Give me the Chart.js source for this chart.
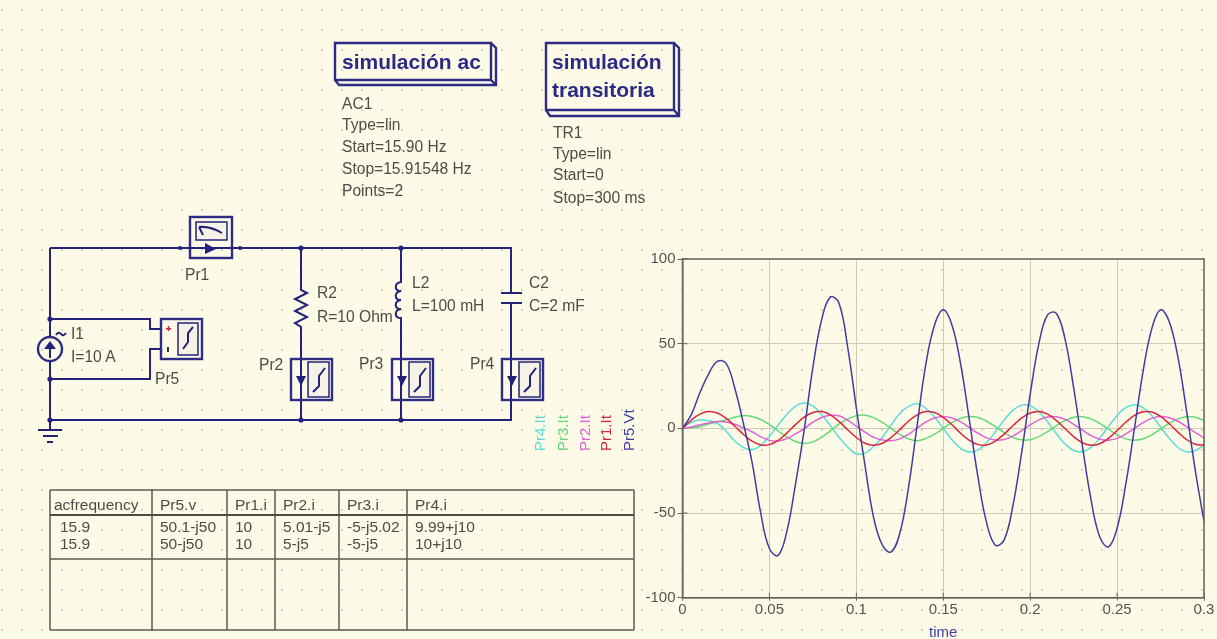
<!DOCTYPE html>
<html>
<head>
<meta charset="utf-8">
<title>Qucs simulación</title>
<script src="https://cdn.jsdelivr.net/npm/chart.js@4"></script>
<style>
html, body { margin: 0; padding: 0; background: #fefae8; overflow: hidden; }
#sheet, #chart { position: absolute; left: 0; top: 0; width: 1217px; height: 639px; filter: blur(0.5px); }
svg text { font-family: "Liberation Sans", sans-serif; font-size: 15.6px; fill: #4c4c48; }
svg text.title { font-size: 21px; font-weight: bold; fill: #2b2b86; }
svg text.cell { font-size: 15.5px; }
.wire { stroke: #23237c; stroke-width: 2; fill: none; }
.box { stroke: #2d2d86; stroke-width: 2.4; fill: none; }
.inner { stroke: #23237c; stroke-width: 1.5; fill: #f6f2e6; }
.tbl { stroke: #5a5a50; stroke-width: 1.5; }
.tblh { stroke: #4a4a44; stroke-width: 2; }
</style>
</head>
<body>
<svg id="sheet" viewBox="0 0 1217 639" xmlns="http://www.w3.org/2000/svg">
  <defs>
    <pattern id="dots" x="1" y="9" width="20" height="20" patternUnits="userSpaceOnUse">
      <rect width="1.8" height="1.8" fill="#cfcdbc"/>
    </pattern>
    <g id="probeI">
      <rect class="box" x="-10" y="-21" width="41" height="41"/>
      <rect class="inner" x="7" y="-18" width="21" height="35"/>
      <path class="wire" d="M12 12 L18 6 L18 -4 L24 -12" stroke-width="1.5"/>
      <path d="M-5 -4 L5 -4 L0 6 Z" fill="#23237c"/>
    </g>
  </defs>
  <rect width="1217" height="639" fill="url(#dots)"/>

  <!-- simulation blocks -->
  <path class="box" d="M335 43 H491 V80 H335 Z M491 43 L496 48 V85 H339 L335 80 M491 80 L496 85"/>
  <text class="title" x="342" y="69">simulación ac</text>
  <text x="342" y="109">AC1</text>
  <text x="342" y="130">Type=lin</text>
  <text x="342" y="152">Start=15.90 Hz</text>
  <text x="342" y="174">Stop=15.91548 Hz</text>
  <text x="342" y="196">Points=2</text>

  <path class="box" d="M546 43 H674 V110 H546 Z M674 43 L679 48 V116 H550 L546 110 M674 110 L679 116"/>
  <text class="title" x="552" y="69">simulación</text>
  <text class="title" x="552" y="97">transitoria</text>
  <text x="553" y="138">TR1</text>
  <text x="553" y="159">Type=lin</text>
  <text x="553" y="180">Start=0</text>
  <text x="553" y="203">Stop=300 ms</text>

  <!-- wires -->
  <path class="wire" d="M50 248 H190 M232 248 H511 V293 M511 303 V420 H50 V361 M50 337 V248"/>
  <path class="wire" d="M50 319 H150 V329 H161 M50 379 H150 V349 H161"/>
  <path class="wire" d="M301 248 V290 L307 293 L295 299 L307 305 L295 311 L307 317 L295 323 L301 327 V420"/>
  <path class="wire" d="M401 248 V282 C394 283 394 291 401 291 C394 292 394 300 401 300 C394 301 394 309 401 309 C394 310 394 318 401 318 V420"/>
  <path class="wire" stroke-width="2.5" d="M501 293 H522 M501 303 H522"/>
  <path class="wire" d="M50 420 V430 M38 430 H62 M43 436 H58 M47 442 H53"/>
  <g fill="#23237c">
    <circle cx="301" cy="248" r="2.6"/><circle cx="401" cy="248" r="2.6"/>
    <circle cx="301" cy="420" r="2.6"/><circle cx="401" cy="420" r="2.6"/>
    <circle cx="50" cy="319" r="2.6"/><circle cx="50" cy="379" r="2.6"/><circle cx="50" cy="420" r="2.6"/>
    <circle cx="180" cy="248" r="2"/><circle cx="240" cy="248" r="2"/>
  </g>

  <!-- current source -->
  <circle class="box" cx="50" cy="349" r="12" fill="#fefae8"/>
  <path class="wire" d="M50 343 V358"/>
  <path d="M44 349 L50 341 L56 349 Z" fill="#23237c"/>
  <path class="wire" stroke-width="1.4" d="M56 335 Q59 331 61 334 T66 333"/>
  <text x="71" y="339">I1</text>
  <text x="71" y="362">I=10 A</text>

  <!-- probes -->
  <rect class="box" x="190" y="217" width="42" height="41"/>
  <rect class="inner" x="196" y="222" width="31" height="18"/>
  <path class="wire" stroke-width="1.5" d="M199 227 Q210 226 222 233 M203 235 L199 227"/>
  <path class="wire" d="M185 248 H236"/>
  <path d="M205 243 L216 249 L205 254 Z" fill="#23237c"/>
  <text x="185" y="280">Pr1</text>

  <rect class="box" x="161" y="319" width="41" height="40"/>
  <rect class="inner" x="178" y="323" width="20" height="32"/>
  <path class="wire" stroke-width="1.5" d="M183 349 L188 342 L188 333 L193 327"/>
  <rect x="166" y="328" width="5" height="1.5" fill="#d02030"/>
  <rect x="167.8" y="326" width="1.5" height="5" fill="#d02030"/>
  <rect x="167" y="347" width="2" height="5" fill="#333"/>
  <text x="155" y="384">Pr5</text>

  <use href="#probeI" x="301" y="380"/>
  <use href="#probeI" x="402" y="380"/>
  <use href="#probeI" x="512" y="380"/>
  <text x="259" y="370">Pr2</text>
  <text x="359" y="369">Pr3</text>
  <text x="470" y="369">Pr4</text>

  <text x="317" y="298">R2</text>
  <text x="317" y="322">R=10 Ohm</text>
  <text x="412" y="288">L2</text>
  <text x="412" y="311">L=100 mH</text>
  <text x="529" y="288">C2</text>
  <text x="529" y="311">C=2 mF</text>

  <g id="results"></g>
</svg>
<canvas id="chart" width="1217" height="639"></canvas>
<script>
// probe results table
const tableHeaders = ['acfrequency', 'Pr5.v', 'Pr1.i', 'Pr2.i', 'Pr3.i', 'Pr4.i'];
const acFrequency = ['15.9', '15.9'];
const pr5V = ['50.1-j50', '50-j50'];
const pr1I = ['10', '10'];
const pr2I = ['5.01-j5', '5-j5'];
const pr3I = ['-5-j5.02', '-5-j5'];
const pr4I = ['9.99+j10', '10+j10'];

// transient curves, every 5 ms
const timeValues = [0, 0.005, 0.01, 0.015, 0.02, 0.025, 0.03, 0.035, 0.04, 0.045, 0.05, 0.055, 0.06, 0.065, 0.07,
    0.075, 0.08, 0.085, 0.09, 0.095, 0.1, 0.105, 0.11, 0.115, 0.12, 0.125, 0.13, 0.135, 0.14, 0.145, 0.15,
    0.155, 0.16, 0.165, 0.17, 0.175, 0.18, 0.185, 0.19, 0.195, 0.2, 0.205, 0.21, 0.215, 0.22, 0.225, 0.23,
    0.235, 0.24, 0.245, 0.25, 0.255, 0.26, 0.265, 0.27, 0.275, 0.28, 0.285, 0.29, 0.295, 0.3];
const pr5Vt = [0, 8, 21, 32, 39.5, 38.5, 24, 3, -20, -50, -71, -75, -61, -33, -1, 36, 64, 77.5, 74, 48, 12, -22, -53, -69, -73,
    -62, -35, 2, 38, 61, 70, 61, 38, 5, -29, -56, -69, -66, -46, -15, 20, 50, 67, 68, 53, 24, -10, -42, -64, -70,
    -59, -33, 0, 34, 59, 70, 63, 42, 10, -25, -55];
const pr1It = [0, 4.8, 8.4, 10, 9.1, 6, 1.4, -3.5, -7.6, -9.8, -9.6, -7.1, -2.8, 2.2, 6.6, 9.4, 9.9, 8, 4.1, -0.8, -5.4,
    -8.8, -10, -8.8, -5.4, -0.7, 4.2, 8, 9.9, 9.4, 6.5, 2.1, -2.9, -7.1, -9.6, -9.8, -7.5, -3.4, 1.5, 6, 9.1,
    10, 8.4, 4.7, -0.1, -4.9, -8.5, -10, -9.1, -5.9, -1.3, 3.6, 7.6, 9.8, 9.6, 7, 2.7, -2.2, -6.6, -9.4, -9.9];
const pr2It = [0, 0.8, 2.1, 3.2, 4, 3.8, 2.4, 0.3, -2, -5, -7.1, -7.5, -6.1, -3.3, -0.1, 3.6, 6.4, 7.7, 7.4, 4.8, 1.2, -2.2, -5.3,
    -6.9, -7.3, -6.2, -3.5, 0.2, 3.8, 6.1, 7, 6.1, 3.8, 0.5, -2.9, -5.6, -6.9, -6.6, -4.6, -1.5, 2, 5, 6.7, 6.8, 5.3,
    2.4, -1, -4.2, -6.4, -7, -5.9, -3.3, 0, 3.4, 5.9, 7, 6.3, 4.2, 1, -2.5, -5.5];
const pr3It = [0, 0.3, 1, 2.5, 3.8, 5, 6.5, 7.5, 7, 5.2, 2.2, -1.5, -5, -7.8, -9, -8, -5.2, -1.5, 2.5, 5.5, 7.5, 7.8, 6.3,
    3.5, 0, -3.5, -6.2, -7.3, -5.9, -3.4, 0, 3.4, 5.9, 7, 6.4, 4.2, 1, -2.5, -5.3, -6.8, -6.7, -4.9, -2, 1.5, 4.6,
    6.6, 6.9, 5.6, 2.9, -0.5, -3.8, -6.2, -7, -6.1, -3.8, -0.5, 2.9, 5.6, 6.9, 6.5, 4.6];
const pr4It = [0, 3.6, 5, 4.5, 3, -1.5, -7.4, -11.3, -12.6, -10, -4.6, 1.9, 8.2, 13.1, 15, 13.2, 8.2, 1.7, -5.2, -11, -15,
    -14.6, -10.6, -5.2, 1.9, 8.8, 13, 14.5, 11.8, 6.7, 0, -6.7, -11.8, -14, -12.7, -8.4, -2, 4.9, 10.6, 13.7, 13.4,
    9.9, 3.9, -3, -9.2, -13.1, -13.8, -11.2, -5.8, 1, 7.6, 12.3, 14, 12.2, 7.5, 0.9, -5.9, -11.3, -13.9, -13.1, -10];

const FONT = 'Liberation Sans';
const TEXT_COLOR = '#55554f';

// ── results table ─────────────────────────────────────────
function drawTable() {
    const g = document.getElementById('results');
    const NS = 'http://www.w3.org/2000/svg';
    const colX = [50, 152, 227, 275, 339, 407, 634];
    const columns = [acFrequency, pr5V, pr1I, pr2I, pr3I, pr4I];
    const add = (tag, attrs, txt) => {
        const el = document.createElementNS(NS, tag);
        for (const k in attrs) el.setAttribute(k, attrs[k]);
        if (txt) el.textContent = txt;
        g.appendChild(el);
    };
    for (const x of colX) add('line', { x1: x, x2: x, y1: 490, y2: 630, class: 'tbl' });
    add('line', { x1: 50, x2: 634, y1: 490, y2: 490, class: 'tbl' });
    add('line', { x1: 50, x2: 634, y1: 515, y2: 515, class: 'tblh' });
    add('line', { x1: 50, x2: 634, y1: 559, y2: 559, class: 'tbl' });
    add('line', { x1: 50, x2: 634, y1: 630, y2: 630, class: 'tbl' });
    tableHeaders.forEach((h, i) => {
        add('text', { x: colX[i] + (i ? 8 : 4), y: 510, class: 'cell' }, h);
        columns[i].forEach((v, r) => add('text', { x: colX[i] + (i ? 8 : 10), y: 532 + r * 17, class: 'cell' }, v));
    });
}
drawTable();

// ── chart ─────────────────────────────────────────────────
function toPoints(values) {
    return values.map((y, i) => ({ x: timeValues[i], y }));
}

// Qucs puts the series names rotated next to the y axis
const axisNames = {
    id: 'axisNames',
    afterDraw(chart) {
        const ctx = chart.ctx;
        const xs = { 'Pr5.Vt': 630, 'Pr1.It': 607, 'Pr2.It': 586, 'Pr3.It': 564, 'Pr4.It': 541 };
        ctx.save();
        ctx.font = '15px "' + FONT + '"';
        ctx.textBaseline = 'middle';
        ctx.textAlign = 'left';
        for (const ds of chart.data.datasets) {
            ctx.save();
            ctx.translate(xs[ds.label], 451);
            ctx.rotate(-Math.PI / 2);
            ctx.fillStyle = ds.borderColor;
            ctx.fillText(ds.label, 0, 0);
            ctx.restore();
        }
        ctx.restore();
    }
};

// short tick marks on the inside of the frame
const innerTicks = {
    id: 'innerTicks',
    beforeDatasetsDraw(chart) {
        const { ctx, chartArea, scales } = chart;
        ctx.save();
        ctx.strokeStyle = '#66665c';
        ctx.lineWidth = 1;
        ctx.beginPath();
        for (const t of scales.y.ticks) {
            const y = scales.y.getPixelForValue(t.value);
            ctx.moveTo(chartArea.left, y);
            ctx.lineTo(chartArea.left + 5, y);
        }
        for (const t of scales.x.ticks) {
            const x = scales.x.getPixelForValue(t.value);
            ctx.moveTo(x, chartArea.bottom);
            ctx.lineTo(x, chartArea.bottom - 5);
        }
        ctx.stroke();
        ctx.restore();
    }
};

// closes the frame on the top and right sides
const frame = {
    id: 'frame',
    afterDatasetsDraw(chart) {
        const { ctx, chartArea: a } = chart;
        ctx.save();
        ctx.strokeStyle = '#66665c';
        ctx.lineWidth = 1.5;
        ctx.strokeRect(a.left, a.top, a.right - a.left, a.bottom - a.top);
        ctx.restore();
    }
};

new Chart(document.getElementById('chart'), {
    type: 'line',
    data: {
        datasets: [
            { label: 'Pr5.Vt', data: toPoints(pr5Vt), borderColor: '#3f3fa0' },
            { label: 'Pr1.It', data: toPoints(pr1It), borderColor: '#d8263c' },
            { label: 'Pr2.It', data: toPoints(pr2It), borderColor: '#e060d8' },
            { label: 'Pr3.It', data: toPoints(pr3It), borderColor: '#66d878' },
            { label: 'Pr4.It', data: toPoints(pr4It), borderColor: '#5cdcd8' }
        ]
    },
    options: {
        responsive: false,
        animation: false,
        layout: { padding: { left: 0, top: 259, right: 13, bottom: 0 } },
        elements: {
            point: { radius: 0 },
            line: { borderWidth: 1.5, tension: 0.4, fill: false }
        },
        scales: {
            x: {
                type: 'linear',
                min: 0,
                max: 0.3,
                afterFit(scale) { scale.height = 41.3; },
                ticks: {
                    stepSize: 0.05,
                    maxRotation: 0,
                    autoSkip: false,
                    padding: 0,
                    color: TEXT_COLOR,
                    font: { family: FONT, size: 15 },
                    callback: v => String(+v.toFixed(2))
                },
                grid: { color: '#cfccb6', lineWidth: 1, tickLength: 3, tickColor: '#66665c' },
                border: { color: '#66665c', width: 1.5 },
                title: {
                    display: true,
                    text: 'time',
                    color: '#3f3fa0',
                    font: { family: FONT, size: 15 },
                    padding: { top: 0, bottom: -3 }
                }
            },
            y: {
                min: -100,
                max: 100,
                afterFit(scale) { scale.width = 682.5; },
                ticks: {
                    stepSize: 50,
                    padding: 2,
                    color: TEXT_COLOR,
                    font: { family: FONT, size: 15 }
                },
                grid: { color: '#cfccb6', lineWidth: 1, tickLength: 5, tickColor: '#66665c' },
                border: { color: '#66665c', width: 1.5 }
            }
        },
        plugins: {
            legend: { display: false },
            tooltip: { enabled: false }
        }
    },
    plugins: [innerTicks, axisNames, frame]
});
</script>
</body>
</html>
